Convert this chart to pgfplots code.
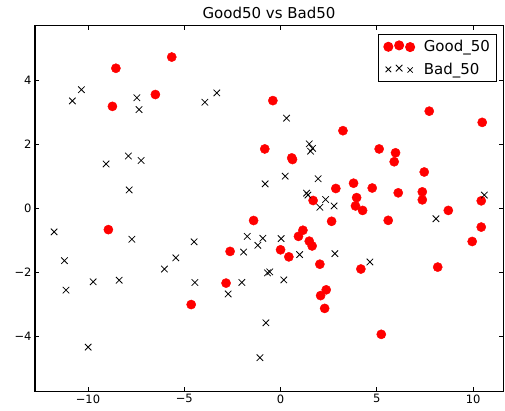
\documentclass[border=0pt]{standalone}
\usepackage{fontspec}
\setmainfont{DejaVu Sans}
\usepackage{pgfplots}
\pgfplotsset{compat=1.18}
\begin{document}
\begin{tikzpicture}
\useasboundingbox (0,0) rectangle (505pt,410pt);
\begin{axis}[
  at={(35pt,19pt)}, anchor=south west,
  scale only axis, width=468pt, height=365pt,
  xmin=-12.75, xmax=11.55, ymin=-5.7, ymax=5.7,
  xtick={-10,-5,0,5,10}, xticklabels={−10,−5,0,5,10},
  ytick={-4,-2,0,2,4}, yticklabels={−4,−2,0,2,4},
  tick align=inside, major tick length=4pt,
  tick style={black, line width=0.8pt},
  axis line style={line width=1pt, black},
  ticklabel style={font=\fontsize{11.5}{13}\selectfont},
  title={Good50 vs Bad50},
  title style={font=\fontsize{15}{17}\selectfont, yshift=-2pt},
  legend style={at={(0.987,0.978)}, anchor=north east, draw=black, line width=1pt,
    font=\fontsize{15}{17}\selectfont, inner xsep=5pt, inner ysep=4pt, row sep=7pt,
    nodes={inner sep=1.5pt}},
  legend cell align=left,
]
\addplot[only marks, mark=*, mark size=4.6pt, mark options={draw=red, fill=red},
  legend image code/.code={
    \path[draw=none, fill=none] (-4.7pt,0pt) -- (34pt,0pt);
    \fill[red] (0pt,-0.3pt) circle (4.5pt);
    \fill[red] (10.8pt,1.1pt) circle (4.5pt);
    \fill[red] (21.8pt,-0.6pt) circle (4.5pt);
  }] coordinates {
(-8.55,4.38) (-5.65,4.73) (-6.50,3.56) (-8.73,3.19) (-8.94,-0.66) (-4.64,-3.00)
(-1.40,-0.375) (-2.62,-1.34) (-2.83,-2.33) (-0.82,1.86) (-0.40,3.37) (0.58,1.58)
(0.62,1.53) (3.24,2.43) (5.12,1.86) (5.97,1.74) (5.90,1.46) (7.72,3.04)
(10.47,2.69) (7.46,1.14) (3.79,0.79) (2.87,0.625) (4.76,0.64) (3.95,0.34)
(3.89,0.08) (6.11,0.49) (7.36,0.52) (7.36,0.27) (10.42,0.24) (1.69,0.25)
(4.26,-0.06) (8.71,-0.06) (2.65,-0.40) (5.59,-0.37) (10.42,-0.58) (9.95,-1.03)
(1.16,-0.68) (0.93,-0.87) (1.49,-1.02) (1.64,-1.17) (0.00,-1.29) (0.43,-1.51)
(2.04,-1.74) (2.37,-2.54) (2.08,-2.72) (2.29,-3.12) (4.17,-1.89) (8.16,-1.83)
(5.23,-3.93)
};
\addlegendentry{Good\_50}
\addplot[only marks, mark=x, mark size=4.6pt, mark options={draw=black, line width=0.8pt},
  legend image code/.code={
    \path[draw=none, fill=none] (-4.7pt,0pt) -- (34pt,0pt);
    \draw[black, line width=0.8pt] (-2.8pt,-2.8pt) -- (2.8pt,2.8pt) (-2.8pt,2.8pt) -- (2.8pt,-2.8pt);
    \draw[black, line width=0.8pt] (7.5pt,-2.1pt) -- (14.1pt,4.5pt) (7.5pt,4.5pt) -- (14.1pt,-2.1pt);
    \draw[black, line width=0.8pt] (19.2pt,-3.2pt) -- (24.4pt,2.0pt) (19.2pt,2.0pt) -- (24.4pt,-3.2pt);
  }] coordinates {
(-10.81,3.36) (-10.34,3.71) (-7.46,3.46) (-7.35,3.09) (-9.06,1.39) (-7.90,1.64)
(-7.24,1.50) (-7.86,0.58) (-3.93,3.32) (-3.31,3.61) (-0.80,0.77) (0.31,2.82)
(1.49,2.02) (1.66,1.88) (1.56,1.79) (0.24,1.01) (1.95,0.93) (1.35,0.48)
(1.42,0.42) (2.34,0.28) (2.04,0.04) (2.78,0.08) (10.58,0.42) (8.07,-0.32)
(0.03,-0.94) (0.99,-1.44) (2.82,-1.41) (-0.68,-2.01) (-0.56,-1.98) (0.17,-2.23)
(4.64,-1.67) (-0.76,-3.57) (-4.49,-1.04) (-5.44,-1.54) (-6.03,-1.89) (-4.45,-2.31)
(-1.73,-0.87) (-0.92,-0.93) (-1.18,-1.15) (-1.92,-1.36) (-2.01,-2.31) (-2.72,-2.67)
(-1.07,-4.66) (-11.76,-0.73) (-7.72,-0.96) (-11.22,-1.63) (-9.73,-2.29) (-8.38,-2.24)
(-11.14,-2.55) (-9.99,-4.33)
};
\addlegendentry{Bad\_50}
\end{axis}
\end{tikzpicture}
\end{document}
